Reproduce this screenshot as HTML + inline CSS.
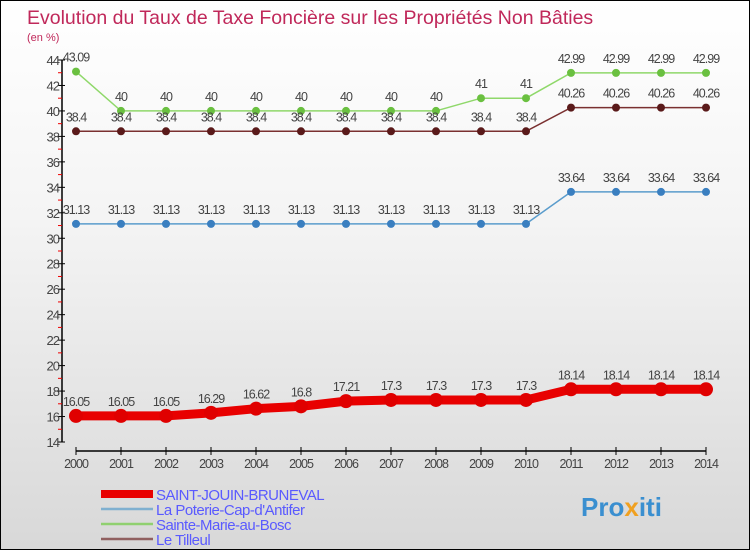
<!DOCTYPE html>
<html><head><meta charset="utf-8"><style>
body{margin:0}
#c{position:relative;width:748px;height:548px;border:1px solid #000;background:linear-gradient(#fff 0%,#f4f4f4 40%,#d8d8d8 100%);font-family:"Liberation Sans",sans-serif;overflow:hidden}
svg text{font-family:"Liberation Sans",sans-serif}
</style></head><body>
<div id="c">
<svg id="s" width="748" height="548">
<text x="26" y="23" font-size="19.5" fill="#c0285a">Evolution du Taux de Taxe Foncière sur les Propriétés Non Bâties</text>
<text x="26" y="40" font-size="11" fill="#c0285a">(en %)</text>
<g id="axes"></g><g id="series"></g><g id="legend"></g>
<text x="580" y="515" font-size="26" font-weight="bold" fill="#3a8fd0">Pro<tspan fill="#f0a020">x</tspan>iti</text>
</svg>
</div>
<script>
const years=[2000,2001,2002,2003,2004,2005,2006,2007,2008,2009,2010,2011,2012,2013,2014];
const yTicks=[14,16,18,20,22,24,26,28,30,32,34,36,38,40,42,44];
const saintJouin=[16.05,16.05,16.05,16.29,16.62,16.8,17.21,17.3,17.3,17.3,17.3,18.14,18.14,18.14,18.14];
const laPoterie=[31.13,31.13,31.13,31.13,31.13,31.13,31.13,31.13,31.13,31.13,31.13,33.64,33.64,33.64,33.64];
const sainteMarie=[43.09,40,40,40,40,40,40,40,40,41,41,42.99,42.99,42.99,42.99];
const leTilleul=[38.4,38.4,38.4,38.4,38.4,38.4,38.4,38.4,38.4,38.4,38.4,40.26,40.26,40.26,40.26];
const names=["SAINT-JOUIN-BRUNEVAL","La Poterie-Cap-d'Antifer","Sainte-Marie-au-Bosc","Le Tilleul"];
const NS="http://www.w3.org/2000/svg";
const xs=i=>75+i*45;
const ys=v=>441-(v-14)*(382/30);
function mk(t,a,p){const e=document.createElementNS(NS,t);for(const k in a)e.setAttribute(k,a[k]);p.appendChild(e);return e;}
const ax=document.getElementById('axes');
let l=mk('line',{x1:61,y1:ys(44),x2:61,y2:441,stroke:'#000','stroke-width':1.5},ax);


yTicks.forEach(v=>{
 let t=mk('line',{x1:57,y1:ys(v),x2:64,y2:ys(v),stroke:'#000'},ax);
 
 
 if(v<44){let r=mk('line',{x1:57,y1:ys(v+1),x2:61,y2:ys(v+1),stroke:'#e00'},ax);
 
 }
 let tx=mk('text',{x:58,y:ys(v)+5,'font-size':13,fill:'#444','text-anchor':'end','letter-spacing':'-1'},ax);
 tx.textContent=v;
 
 
});
l=mk('line',{x1:75,y1:450,x2:705,y2:450,stroke:'#000','stroke-width':1.5},ax);


years.forEach((y,i)=>{
 let t=mk('line',{x1:xs(i),y1:446,x2:xs(i),y2:454,stroke:'#000'},ax);
 
 
 let tx=mk('text',{x:xs(i),y:467,'font-size':12.5,fill:'#444','text-anchor':'middle','letter-spacing':'-1'},ax);
 tx.textContent=y;
 
 
});
const sg=document.getElementById('series');
const specs=[[laPoterie,'#5a9ccc','#3a7fc0',1.5,4,'la-poterie'],[sainteMarie,'#8fd86a','#6ac040',1.5,4,'sainte-marie'],[leTilleul,'#7a3030','#5a1a1a',1.5,4,'le-tilleul'],[saintJouin,'#e80000','#e00000',9,7,'saint-jouin']];
specs.forEach(([d,lc,pc,w,r,nm])=>{
 let pl=mk('polyline',{points:d.map((v,i)=>xs(i)+','+ys(v)).join(' '),fill:'none',stroke:lc,'stroke-width':w},sg);
 
 
 d.forEach((v,i)=>{
  let c=mk('circle',{cx:xs(i),cy:ys(v),r:r,fill:pc},sg);
  
  
  let tx=mk('text',{x:xs(i),y:ys(v)-10,'font-size':12.5,fill:'#444','text-anchor':'middle','letter-spacing':'-1'},sg);
  tx.textContent=v;
  
  
 });
});
const lg=document.getElementById('legend');
const lcols=['#e80000','#7fb0d0','#90d070','#906060'],lw=[8,2.5,2.5,2.5];
names.forEach((n,i)=>{
 const y=493+i*15;
 let ln=mk('line',{x1:100,y1:y,x2:152,y2:y,stroke:lcols[i],'stroke-width':lw[i]},lg);
 
 
 let tx=mk('text',{x:155,y:y+6,'font-size':15,fill:'#5a5aff','letter-spacing':'-0.5'},lg);
 tx.textContent=n;
 
 
});
</script>
</body></html>
